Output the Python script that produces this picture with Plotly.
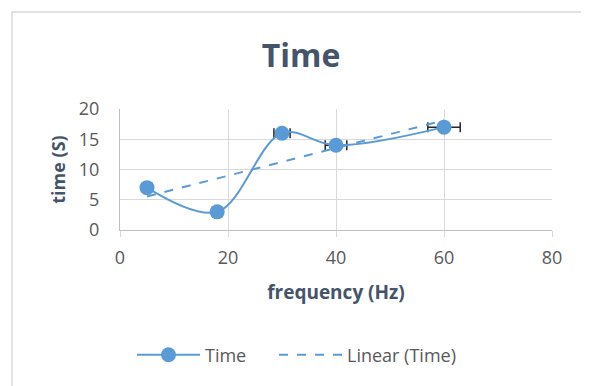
import numpy as np
import plotly.graph_objects as go

freq = [5, 18, 30, 40, 60]
time_s = [7, 3, 16, 14, 17]
err_pct = 5
x_ticks = [0, 20, 40, 60, 80]
y_ticks = [0, 5, 10, 15, 20]

blue = "#5B9BD5"
txt = "#44546A"
lab = "#595959"
font = "Open Sans"

slope, icpt = np.polyfit(freq, time_s, 1)
trend_x = [min(freq), max(freq)]
trend_y = [slope * v + icpt for v in trend_x]

fig = go.Figure()
fig.add_trace(go.Scatter(
    x=freq, y=time_s, name="Time", mode="lines+markers", legend="legend",
    line=dict(color=blue, width=2, shape="spline", smoothing=1.0),
    marker=dict(color=blue, size=15),
    error_x=dict(type="percent", value=err_pct, color="#262626", thickness=1.5, width=5),
))
fig.add_trace(go.Scatter(
    x=trend_x, y=trend_y, name="Linear (Time)", mode="lines", legend="legend2",
    line=dict(color=blue, width=2, dash="dash"),
))

# page has an 8px body offset
off = 8
W, H = 589, 386
l, t = 120 - off, 109 - off
pw, ph = 432, 121
r, b = W - l - pw, H - t - ph
bx0 = (12 - off - l) / pw
by1 = 1 + (t - (12 - off)) / ph
leg_y = -((355 - off) - (t + ph)) / ph

legend_common = dict(orientation="h", xanchor="left", y=leg_y, yanchor="middle",
                     font=dict(size=18, color=lab), itemwidth=63, bgcolor="rgba(0,0,0,0)")

fig.update_layout(
    width=W, height=H,
    margin=dict(l=l, r=r, t=t, b=b),
    paper_bgcolor="white", plot_bgcolor="white",
    font=dict(family=font, color=lab),
    title=dict(text="<b>Time</b>", x=(301 - off) / W, xanchor="center", y=1 - (56 - off) / H,
               yanchor="middle", xref="container", yref="container",
               font=dict(size=32, color=txt, family=font)),
    xaxis=dict(range=[0, 80], tickvals=x_ticks, showgrid=True, gridcolor="#D9D9D9", gridwidth=1,
               showline=True, linecolor="#BFBFBF", zeroline=False,
               ticks="outside", ticklen=6, tickcolor="#D9D9D9", ticklabelstandoff=5,
               tickfont=dict(size=18, color=lab),
               title=dict(text="<b>frequency (Hz)</b>", font=dict(size=19, color=txt), standoff=18)),
    yaxis=dict(range=[0, 20], tickvals=y_ticks, showgrid=True, gridcolor="#D9D9D9", gridwidth=1,
               showline=True, linecolor="#BFBFBF", zeroline=False, ticks="",
               ticklabelstandoff=16,
               tickfont=dict(size=18, color=lab),
               title=dict(text="<b>time (S)</b>", font=dict(size=18, color=txt), standoff=8)),
    legend=dict(x=(132 - off - l) / pw, **legend_common),
    legend2=dict(x=(274 - off - l) / pw, **legend_common),
    showlegend=True,
    shapes=[dict(type="rect", xref="paper", yref="paper", x0=bx0, x1=2.0, y0=-3.0, y1=by1,
                 line=dict(color="#D9D9D9", width=1.5), layer="below")],
)
fig.write_html("out.html")
